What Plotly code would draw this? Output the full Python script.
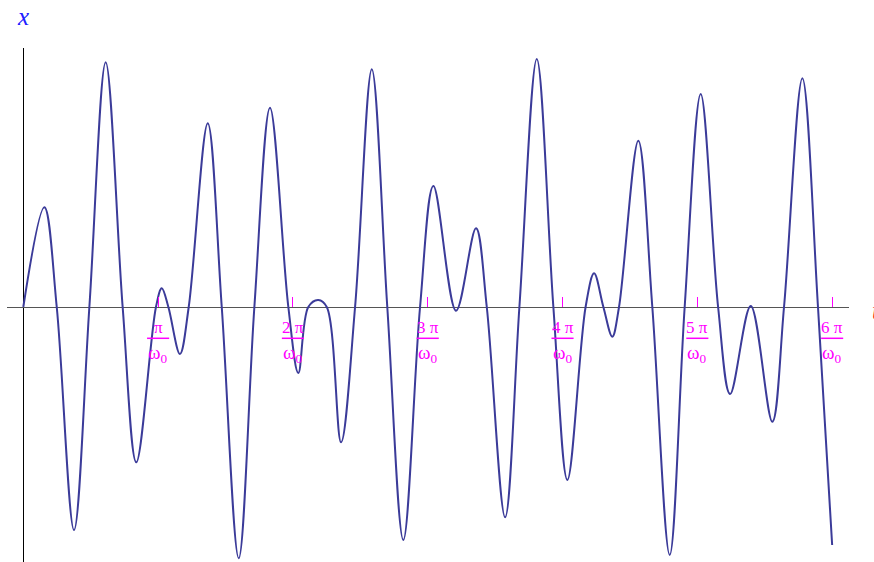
import plotly.graph_objects as go

# time in units of pi/omega_0, displacement x (arbitrary units)
t_vals = [0.000, 0.156, 0.248, 0.376, 0.490, 0.611, 0.737, 0.838, 0.984, 1.027,
          1.076, 1.162, 1.227, 1.368, 1.472, 1.598, 1.714, 1.830, 1.966, 2.040,
          2.114, 2.188, 2.251, 2.357, 2.461, 2.585, 2.700, 2.819, 2.943, 3.042,
          3.210, 3.358, 3.438, 3.574, 3.680, 3.809, 3.932, 4.036, 4.171, 4.234,
          4.303, 4.369, 4.419, 4.562, 4.666, 4.795, 4.906, 5.025, 5.154, 5.243,
          5.396, 5.556, 5.643, 5.779, 5.895, 6.000]
x_vals = [0.000, 0.997, 0.000, -2.230, 0.000, 2.447, 0.000, -1.553, 0.000, 0.187,
          0.000, -0.470, 0.000, 1.837, 0.000, -2.513, 0.000, 1.993, 0.000, -0.660,
          0.000, 0.070, 0.000, -1.353, 0.000, 2.377, 0.000, -2.330, 0.000, 1.210,
          -0.037, 0.787, 0.000, -2.103, 0.000, 2.480, 0.000, -1.730, 0.000, 0.337,
          0.000, -0.297, 0.000, 1.663, 0.000, -2.480, 0.000, 2.130, 0.000, -0.870,
          0.010, -1.147, 0.000, 2.287, 0.000, -2.380]

tick_vals = [1, 2, 3, 4, 5, 6]
tick_nums = ["π", "2 π", "3 π", "4 π", "5 π", "6 π"]
tick_den = "ω<sub>0</sub>"

MAG = "#FF00FF"
FONT = "Liberation Serif"

fig = go.Figure()
fig.add_trace(go.Scatter(
    x=t_vals, y=x_vals, mode="lines",
    line=dict(color="#3B3B99", width=2, shape="spline", smoothing=1.0),
    hoverinfo="skip", showlegend=False,
))

annotations = []
shapes = []
for tv, num in zip(tick_vals, tick_nums):
    annotations.append(dict(x=tv, y=-0.20, xref="x", yref="y", text=num, showarrow=False,
                            font=dict(family=FONT, size=17, color=MAG),
                            xanchor="center", yanchor="middle"))
    annotations.append(dict(x=tv, y=-0.47, xref="x", yref="y", text=tick_den, showarrow=False,
                            font=dict(family=FONT, size=19, color=MAG),
                            xanchor="center", yanchor="middle"))
    shapes.append(dict(type="line", xref="x", yref="y", x0=tv - 0.082, x1=tv + 0.082,
                       y0=-0.313, y1=-0.313, line=dict(color=MAG, width=1.5)))

annotations.append(dict(x=0, y=1.0, xref="x", yref="paper", text="<i>x</i>", showarrow=False,
                        font=dict(family=FONT, size=25, color="#2020FF"),
                        xanchor="center", yanchor="bottom", yshift=16))
annotations.append(dict(x=1.025, y=0.49, xref="paper", yref="paper", text="<i>t</i>", showarrow=False,
                        font=dict(family=FONT, size=25, color="#FF2020"),
                        xanchor="left", yanchor="middle"))

fig.update_layout(
    width=874, height=562,
    margin=dict(l=7, r=25, t=48, b=0),
    paper_bgcolor="white", plot_bgcolor="white",
    annotations=annotations, shapes=shapes,
    xaxis=dict(range=[-0.121, 6.125], showgrid=False, showline=False,
               zeroline=True, zerolinecolor="#000000", zerolinewidth=1,
               anchor="free", position=0.4961,
               tickvals=tick_vals, ticks="inside", ticklen=10, tickcolor=MAG, tickwidth=1.2,
               showticklabels=False),
    yaxis=dict(range=[-2.55, 2.59], showgrid=False, showline=False,
               zeroline=True, zerolinecolor="#555555", zerolinewidth=1,
               showticklabels=False, ticks=""),
)

fig.write_html("out.html", config={"displayModeBar": False},
               post_script="document.body.style.margin='0';document.body.style.padding='0';")
